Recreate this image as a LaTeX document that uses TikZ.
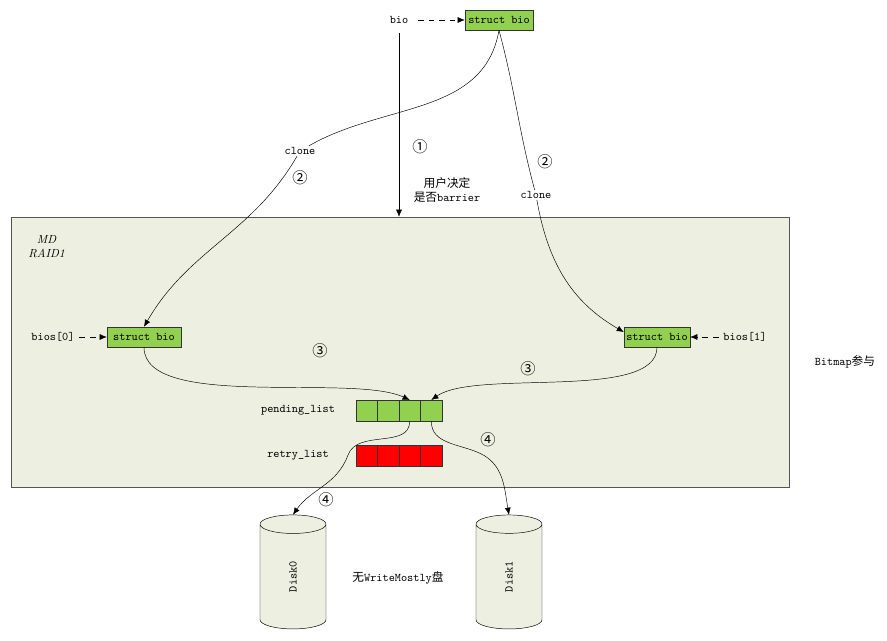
\documentclass[tikz,border=0pt]{standalone}
\usepackage{fontspec}
\newfontfamily\cjk{Noto Sans CJK SC}
\usetikzlibrary{shapes.geometric, arrows.meta}
\definecolor{biogreen}{HTML}{92d050}
\definecolor{retryred}{HTML}{ff0000}
\definecolor{mdback}{HTML}{edefe0}
\definecolor{frame}{HTML}{555555}
\tikzstyle{biobox}=[rectangle,
                             draw=black!80,
                             fill=biogreen,
                             text centered,
                             inner sep=0pt,
                             minimum width=2.1cm,
                             minimum height=0.6cm,
                             font=\ttfamily
                            ]
\tikzstyle{cell}=[rectangle,
                             draw=black!80,
                             inner sep=0pt,
                             minimum width=0.645cm,
                             minimum height=0.63cm
                            ]
\tikzstyle{disk}=[cylinder,
                             draw=black,
                             fill=mdback,
                             shape border rotate=90,
                             aspect=2.5,
                             inner sep=0pt,
                             minimum width=1.98cm,
                             minimum height=3.42cm,
                             font=\ttfamily
                            ]
\tikzstyle{word}=[inner sep=1pt, font=\ttfamily]
\tikzstyle{num}=[inner sep=0pt, font=\cjk\fontsize{13}{13}\selectfont]
\tikzstyle{tip}=[-{Latex[length=6pt, width=5pt]}]
\tikzstyle{hint}=[dash pattern=on 5pt off 4pt, -{Latex[length=6pt, width=5pt]}]

\begin{document}
\begin{tikzpicture}
  \useasboundingbox (0cm, 0cm) rectangle (26.61cm, -19.23cm);

  \node at (12.0cm, -10.56cm) (md) [rectangle, draw=frame, fill=mdback, minimum width=23.34cm, minimum height=8.1cm] {};
  \node at (1.4cm, -7.4cm) (raid) [align=center, font=\itshape] {MD\\RAID1};

  \node at (11.97cm, -0.6cm) (bio) [word] {bio};
  \node at (14.97cm, -0.6cm) (top) [biobox, minimum width=2.04cm] {struct bio};
  \draw[hint, shorten <=0.25cm] (bio) -- (top);

  \draw[tip] ([yshift=-0.25cm]bio.south) -- (bio.south |- md.north);
  \node at (12.6cm, -4.41cm) (one) [num] {①};
  \node at (13.41cm, -5.7cm) (user) [align=center, inner sep=1pt] {{\cjk 用户决定}\\{\cjk 是否}\texttt{barrier}};

  \node at (9.0cm, -4.53cm) (cloneL) [word] {clone};
  \node at (9.0cm, -5.34cm) (twoL) [num] {②};
  \node at (16.08cm, -5.85cm) (cloneR) [word] {clone};
  \node at (16.35cm, -4.86cm) (twoR) [num] {②};

  \node at (4.32cm, -10.11cm) (left) [biobox, minimum width=2.22cm] {struct bio};
  \node at (1.59cm, -10.11cm) (bios0) [word] {bios[0]};
  \draw[hint, shorten <=0.1cm] (bios0) -- (left);
  \node at (19.71cm, -10.11cm) (right) [biobox, minimum width=1.98cm] {struct bio};
  \node at (22.35cm, -10.11cm) (bios1) [word] {bios[1]};
  \draw[hint, shorten <=0.1cm] (bios1) -- (right);

\draw[-] (top.south) to[out=-100, in=30] (cloneL);
\draw[tip] (cloneL) to[out=-120, in=60] (left.north);
\draw[-] (top.south) to[out=-75, in=105] (cloneR);
\draw[tip] (cloneR) to[out=-80, in=150] ([yshift=0.15cm]right.west);

  \node at (25.35cm, -10.86cm) (bitmap) [word] {Bitmap{\cjk 参与}};

  \node at (8.94cm, -12.3cm) (pending) [word] {pending\_list};
  \node at (11.0cm, -12.32cm) (p1) [cell, fill=biogreen] {};
  \node at (11.65cm, -12.32cm) (p2) [cell, fill=biogreen] {};
  \node at (12.29cm, -12.32cm) (p3) [cell, fill=biogreen] {};
  \node at (12.94cm, -12.32cm) (p4) [cell, fill=biogreen] {};

  \node at (8.94cm, -13.65cm) (retry) [word] {retry\_list};
  \node at (11.0cm, -13.67cm) (r1) [cell, fill=retryred] {};
  \node at (11.65cm, -13.67cm) (r2) [cell, fill=retryred] {};
  \node at (12.29cm, -13.67cm) (r3) [cell, fill=retryred] {};
  \node at (12.94cm, -13.67cm) (r4) [cell, fill=retryred] {};

\draw[tip] (left.south) to[out=-90, in=155, looseness=0.6] (p3.north);
\draw[tip] (right.south) to[out=-90, in=35, looseness=0.6] (p4.north);
  \node at (9.6cm, -10.53cm) (threeL) [num] {③};
  \node at (15.84cm, -11.07cm) (threeR) [num] {③};

  \node at (8.79cm, -17.3cm) (disk0) [disk] {\rotatebox{90}{Disk0}};
  \node at (15.27cm, -17.3cm) (disk1) [disk] {\rotatebox{90}{Disk1}};
  \node at (11.94cm, -17.34cm) (nowm) [word] {{\cjk 无}WriteMostly{\cjk 盘}};

  \coordinate (bendL) at (10.44cm, -13.65cm);
  \coordinate (bendR) at (14.4cm, -13.6cm);
\draw[tip] (p3.south) to[out=-90, in=70] (bendL) to[out=-110, in=55] (disk0.north);
\draw[tip] (p4.south) to[out=-90, in=155] (bendR) to[out=-25, in=100] (disk1.north);
  \node at (14.64cm, -13.2cm) (fourR) [num] {④};
  \node at (9.78cm, -15.0cm) (fourL) [num] {④};
\end{tikzpicture}
\end{document}
